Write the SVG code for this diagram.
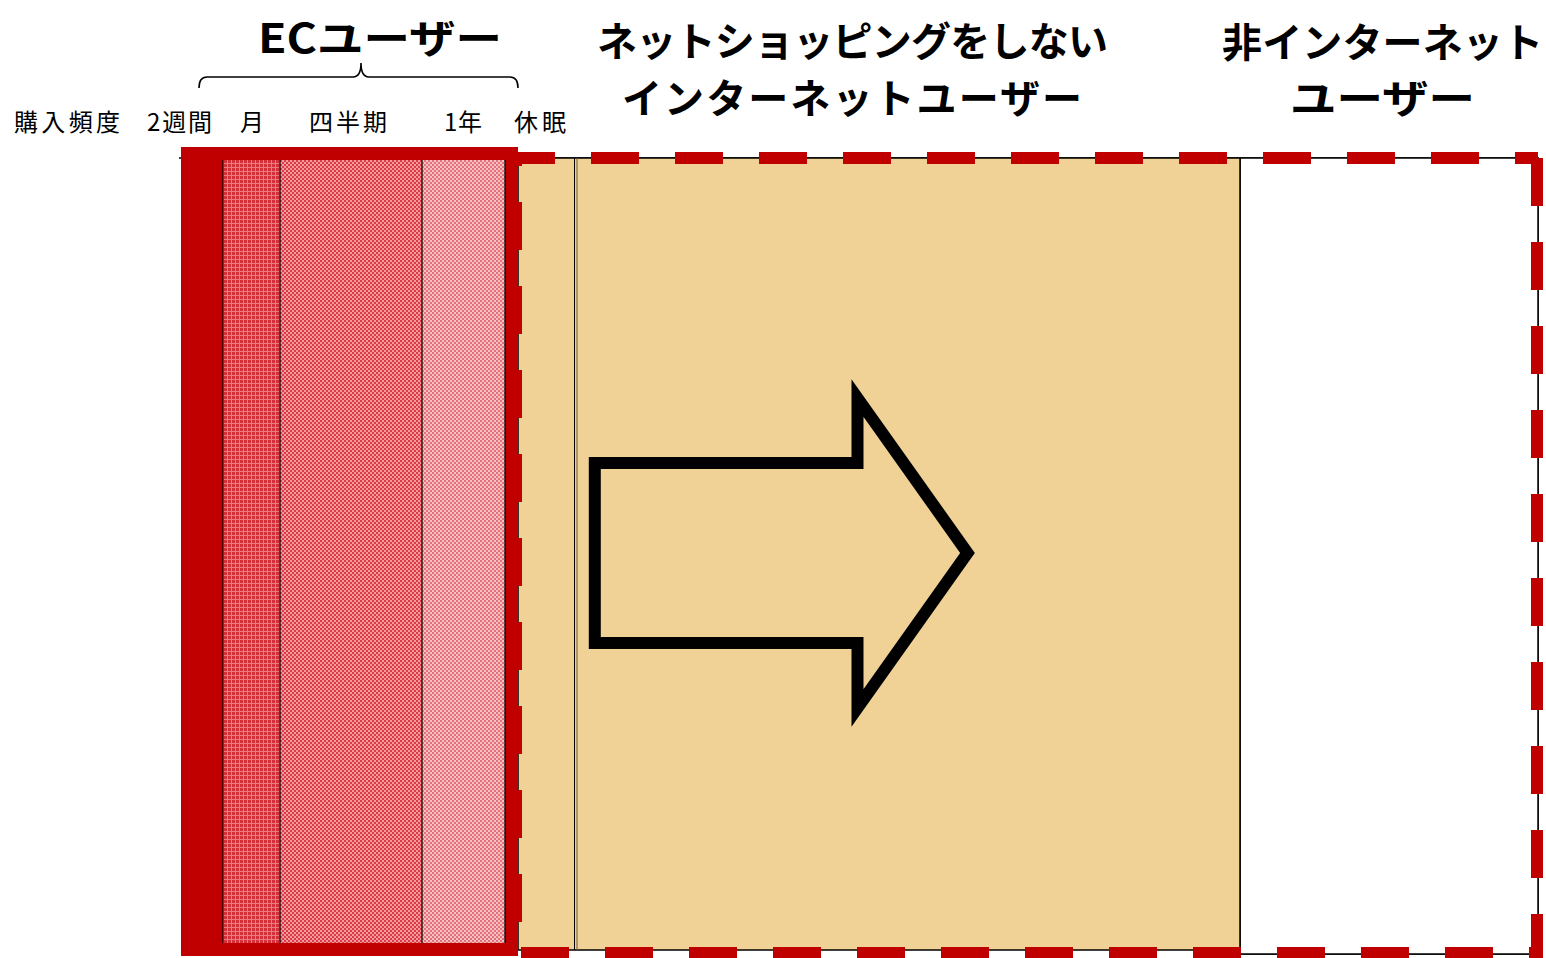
<svg xmlns="http://www.w3.org/2000/svg" width="1546" height="958" viewBox="0 0 1546 958">
<style>
.title{font-family:"Noto Sans CJK JP","Noto Sans",sans-serif;font-weight:700;font-size:40px;fill:#000}
.lbl{font-family:"Noto Sans CJK JP","Noto Sans",sans-serif;font-size:24px;fill:#000}
.thin{fill:none;stroke:#000;stroke-width:1.5}
.sep{stroke:#000;stroke-width:1.2}
.dash{fill:none;stroke:#C00000;stroke-width:12;stroke-dasharray:48 36}
</style>
<defs>
<pattern id="pMonth" width="4" height="4" patternUnits="userSpaceOnUse">
<rect width="4" height="4" fill="#D52F39"/>
<rect x="3" width="1" height="4" fill="#EC7D80"/>
<rect y="3" width="4" height="1" fill="#EC7D80"/>
</pattern>
<pattern id="pQuarter" width="4" height="4" patternUnits="userSpaceOnUse">
<rect width="4" height="4" fill="#F29A9C"/>
<rect width="2" height="2" fill="#DC3A46"/>
<rect x="2" y="2" width="2" height="2" fill="#DC3A46"/>
</pattern>
<pattern id="pYear" width="4" height="4" patternUnits="userSpaceOnUse">
<rect width="4" height="4" fill="#F6C0C2"/>
<rect width="2" height="2" fill="#E2707A"/>
<rect x="2" y="2" width="2" height="2" fill="#E2707A"/>
</pattern>
</defs>
<rect width="1546" height="958" fill="#fff"/>

<g id="titles">
<text class="title" x="258" y="53" font-size="43" textLength="244" lengthAdjust="spacingAndGlyphs">ECユーザー</text>
<text class="title" x="597" y="56" textLength="511">ネットショッピングをしない</text>
<text class="title" x="622" y="113" textLength="460">インターネットユーザー</text>
<text class="title" x="1222" y="57" textLength="321">非インターネット</text>
<text class="title" x="1290" y="113" textLength="185" lengthAdjust="spacingAndGlyphs">ユーザー</text>
</g>

<g id="brace">
<path d="M199,88 Q199,77 207,77 L353,77 Q361,77 361,63 Q361,77 369,77 L510,77 Q518,77 518,88" fill="none" stroke="#000" stroke-width="1.6"/>
</g>

<g id="labels">
<text class="lbl" x="14" y="131" textLength="106">購入頻度</text>
<text class="lbl" x="147" y="131" textLength="65">2週間</text>
<text class="lbl" x="240" y="131" textLength="22">月</text>
<text class="lbl" x="309" y="131" textLength="78">四半期</text>
<text class="lbl" x="444" y="131" textLength="38">1年</text>
<text class="lbl" x="514" y="131" textLength="52">休眠</text>
</g>

<g id="outline">
<path class="thin" d="M179,158 H1538 V954 H1240"/>
</g>

<g id="non-internet-users">
<rect x="1240" y="158" width="298" height="796" fill="#fff" stroke="#000" stroke-width="1.5"/>
</g>

<g id="internet-non-shoppers">
<rect x="518" y="158" width="722" height="792" fill="#F0D296" stroke="#000" stroke-width="1.5"/>
<line x1="574.5" y1="158" x2="574.5" y2="950" stroke="#000" stroke-width="1"/>
<line x1="577" y1="158" x2="577" y2="950" stroke="#6b5a3a" stroke-width="1"/>
</g>

<g id="arrow">
<polygon points="594.8,463 857.5,463 857.5,398 967.5,553 857.5,708 857.5,643 594.8,643" fill="#F0D296" stroke="#000" stroke-width="12" stroke-linejoin="miter"/>
</g>

<g id="ec-users">
<rect x="181" y="147" width="337" height="809" fill="#C00000"/>
<rect x="223" y="160" width="57" height="783" fill="url(#pMonth)"/>
<rect x="280" y="160" width="142" height="783" fill="url(#pQuarter)"/>
<rect x="422" y="160" width="83" height="783" fill="url(#pYear)"/>
<line class="sep" x1="223" y1="160" x2="223" y2="943"/>
<line class="sep" x1="280" y1="160" x2="280" y2="943"/>
<line class="sep" x1="422" y1="160" x2="422" y2="943"/>
<line class="sep" x1="505" y1="160" x2="505" y2="943"/>
</g>

<g id="connectors">
<line class="dash" x1="518" y1="158" x2="1538" y2="158" stroke-dashoffset="11"/>
<line class="dash" x1="1537" y1="158" x2="1537" y2="953"/>
<line class="dash" x1="518" y1="953" x2="1543" y2="953" stroke-dashoffset="81"/>
<line class="dash" x1="516" y1="158" x2="516" y2="953" stroke-dashoffset="40"/>
</g>
</svg>
